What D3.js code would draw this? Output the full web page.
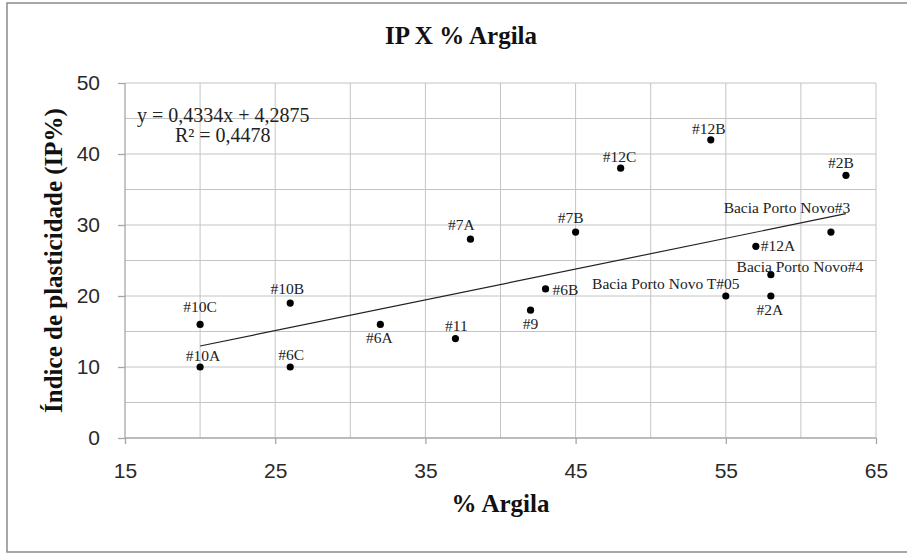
<!DOCTYPE html>
<html>
<head>
<meta charset="utf-8">
<script src="https://cdn.jsdelivr.net/npm/d3@7"></script>
<style>
  body { margin: 0; background: #fff; }
  .grid line { stroke: #c4c4c4; stroke-width: 1; }
  .axis path, .axis line { stroke: #a6a6a6; stroke-width: 1.3; }
  .axis text { font-family: "Liberation Sans", Arial, sans-serif; font-size: 21px; fill: #2a2a2a; }
  .lbl { font-family: "Liberation Serif", "Times New Roman", serif; font-size: 15.5px; fill: #222; }
  .ttl { font-family: "Liberation Serif", "Times New Roman", serif; font-weight: bold; fill: #111; }
</style>
</head>
<body>
<script>
// data
var argila = [20, 20, 26, 26, 32, 37, 38, 42, 43, 45, 48, 54, 55, 57, 58, 58, 62, 63];
var ip     = [16, 10, 19, 10, 16, 14, 28, 18, 21, 29, 38, 42, 20, 27, 23, 20, 29, 37];
var names  = ["#10C", "#10A", "#10B", "#6C", "#6A", "#11", "#7A", "#9", "#6B", "#7B",
              "#12C", "#12B", "Bacia Porto Novo T#05", "#12A", "Bacia Porto Novo#4",
              "#2A", "Bacia Porto Novo#3", "#2B"];
var xTicks = [15, 25, 35, 45, 55, 65];
var yTicks = [0, 10, 20, 30, 40, 50];
var slope = 0.4334, intercept = 4.2875;
var eqText = "y = 0,4334x + 4,2875";
var r2Text = "R\u00b2 = 0,4478";

// where each data label sits relative to its point
var labelPlace = {
  "#10C": [0, -12, "middle"], "#10A": [3, -6, "middle"], "#10B": [-3, -9, "middle"],
  "#6C": [1, -7, "middle"], "#6A": [-1, 19, "middle"], "#11": [1, -8, "middle"],
  "#7A": [-9, -9, "middle"], "#9": [0, 19, "middle"], "#6B": [7, 6, "start"],
  "#7B": [-5, -9, "middle"], "#12C": [-1, -6, "middle"], "#12B": [-2, -6, "middle"],
  "Bacia Porto Novo T#05": [-60, -7, "middle"], "#12A": [5, 5, "start"],
  "Bacia Porto Novo#4": [29, -3, "middle"], "#2A": [-1, 19, "middle"],
  "Bacia Porto Novo#3": [-44, -19, "middle"], "#2B": [-5, -7, "middle"]
};

var W = 907, H = 553;
var margin = {top: 83, right: 31, bottom: 115, left: 125},
    width = W - margin.left - margin.right,
    height = H - margin.top - margin.bottom;

var svg = d3.select("body").append("svg")
    .attr("width", W)
    .attr("height", H);

// chart border
svg.append("rect")
    .attr("x", 7).attr("y", 3)
    .attr("width", W + 10).attr("height", 549)
    .attr("fill", "none")
    .attr("stroke", "#8a8a8a")
    .attr("stroke-width", 1.5);

var g = svg.append("g")
    .attr("transform", "translate(" + margin.left + "," + margin.top + ")");

var x = d3.scaleLinear().domain([15, 65]).range([0, width]);
var y = d3.scaleLinear().domain([0, 50]).range([height, 0]);

// gridlines every 5
g.append("g").attr("class", "grid")
  .selectAll("line").data(d3.range(20, 66, 5)).enter().append("line")
    .attr("x1", function(d) { return x(d); }).attr("x2", function(d) { return x(d); })
    .attr("y1", 0).attr("y2", height);
g.append("g").attr("class", "grid")
  .selectAll("line").data(d3.range(5, 51, 5)).enter().append("line")
    .attr("y1", function(d) { return y(d); }).attr("y2", function(d) { return y(d); })
    .attr("x1", 0).attr("x2", width);

// axes
g.append("g").attr("class", "axis")
    .attr("transform", "translate(0," + height + ")")
    .call(d3.axisBottom(x).tickValues(xTicks).tickSize(6).tickSizeOuter(0).tickPadding(19))
    .select(".domain").attr("d", "M0,0H" + width);
g.append("g").attr("class", "axis")
    .call(d3.axisLeft(y).tickValues(yTicks).tickSize(7).tickSizeOuter(0).tickPadding(18))
    .select(".domain").attr("d", "M0,0V" + height);

// trend line
var xs = d3.extent(argila);
g.append("line")
    .attr("x1", x(xs[0])).attr("y1", y(slope * xs[0] + intercept))
    .attr("x2", x(xs[1])).attr("y2", y(slope * xs[1] + intercept))
    .attr("stroke", "#222").attr("stroke-width", 1.2);

// points
g.selectAll("circle.pt").data(argila).enter().append("circle")
    .attr("class", "pt")
    .attr("cx", function(d) { return x(d); })
    .attr("cy", function(d, i) { return y(ip[i]); })
    .attr("r", 3.6)
    .attr("fill", "#000");

// data labels
g.selectAll("text.lbl").data(names).enter().append("text")
    .attr("class", "lbl")
    .attr("x", function(d, i) { return x(argila[i]) + labelPlace[d][0]; })
    .attr("y", function(d, i) { return y(ip[i]) + labelPlace[d][1]; })
    .attr("text-anchor", function(d) { return labelPlace[d][2]; })
    .text(function(d) { return d; });

// equation
g.append("text").attr("class", "lbl")
    .attr("x", 12).attr("y", 39)
    .style("font-size", "20px")
    .text(eqText);
g.append("text").attr("class", "lbl")
    .attr("x", 50).attr("y", 59)
    .style("font-size", "20px")
    .text(r2Text);

// titles
svg.append("text").attr("class", "ttl")
    .attr("x", 461).attr("y", 44)
    .attr("text-anchor", "middle")
    .style("font-size", "25px")
    .text("IP X % Argila");

svg.append("text").attr("class", "ttl")
    .attr("x", margin.left + width / 2).attr("y", 512)
    .attr("text-anchor", "middle")
    .style("font-size", "25px")
    .text("% Argila");

svg.append("text").attr("class", "ttl")
    .attr("transform", "translate(62," + (margin.top + height / 2) + ") rotate(-90)")
    .attr("text-anchor", "middle")
    .style("font-size", "25px")
    .text("Índice de plasticidade (IP%)");
</script>
</body>
</html>
